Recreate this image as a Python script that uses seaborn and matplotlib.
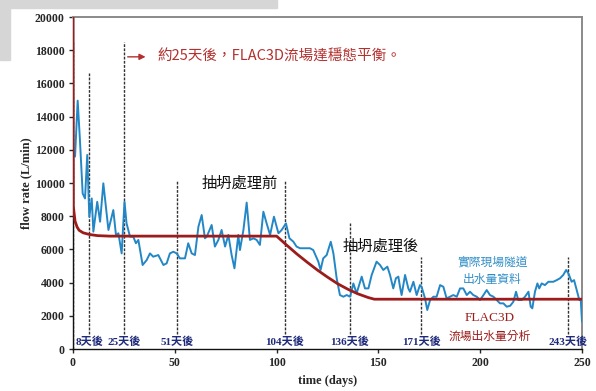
import matplotlib
matplotlib.use("Agg")
import matplotlib.pyplot as plt
import matplotlib.patches as mpatches
import numpy as np
import pandas as pd
import seaborn as sns

# Measured tunnel outflow (L/min) against time (days)
field_days = [1.0, 2.3, 3.4, 4.75, 5.9, 7.0, 8.0, 9.2, 10.0, 11.9, 13.3, 14.9, 16.5, 17.4,
              19.8, 21.1, 22.3, 23.9, 25.3, 26.3, 28.0, 29.6, 30.9, 32.1, 34.2, 36.2, 37.8,
              39.4, 41.9, 44.4, 46.0, 47.6, 49.3, 50.9, 52.5, 55.0, 56.6, 58.3, 59.9, 61.6,
              63.2, 64.8, 65.7, 68.1, 69.7, 71.4, 73.0, 74.7, 76.3, 77.9, 79.3, 81.2, 82.0,
              83.7, 85.3, 86.9, 88.6, 90.2, 91.8, 93.5, 95.1, 96.8, 98.7, 100.9, 102.5,
              104.6, 106.3, 108.2, 109.8, 111.5, 116.4, 118.0, 120.5, 121.6, 122.9, 124.6,
              126.6, 127.9, 129.5, 131.1, 132.8, 134.4, 136.1, 137.7, 139.3, 141.8, 143.4,
              145.1, 146.7, 149.1, 150.8, 152.4, 154.4, 155.7, 157.3, 158.6, 159.8, 160.6,
              161.4, 163.1, 164.7, 165.5, 167.2, 168.8, 170.4, 171.2, 172.9, 174.0, 175.4,
              177.0, 178.6, 180.3, 181.9, 183.5, 185.2, 186.8, 188.5, 190.1, 191.7, 193.4,
              195.0, 196.6, 198.3, 199.9, 201.6, 203.2, 204.8, 206.5, 208.1, 209.7, 211.4,
              213.0, 214.7, 216.3, 217.6, 218.7, 220.4, 222.0, 223.7, 224.8, 225.6, 226.9,
              228.1, 229.0, 230.2, 231.8, 233.5, 235.9, 237.6, 239.2, 240.8, 242.2, 243.3,
              244.9, 246.1, 247.4, 248.7, 249.4, 250.0]
field_flow = [11590, 14960, 12600, 9370, 9070, 11690, 7970, 9070, 7070, 8870, 7670, 9980,
              8170, 7170, 8370, 6870, 6970, 5760, 8870, 7570, 6770, 6770, 6370, 6570, 5060,
              5360, 5760, 5560, 5660, 5060, 5160, 5760, 5860, 5760, 5460, 5460, 6370, 5760,
              5660, 7370, 8070, 6670, 6770, 7470, 6170, 6570, 7170, 6170, 6870, 5670, 4860,
              6870, 5960, 7170, 8820, 6570, 6670, 6570, 6270, 8270, 7570, 6870, 7970, 6970,
              7170, 7570, 6670, 6470, 6170, 6070, 6070, 5960, 5260, 4760, 5460, 5660, 6460,
              5760, 4260, 3250, 3150, 3250, 3150, 3950, 3350, 4360, 3650, 3650, 4460, 5260,
              5060, 4760, 4960, 4460, 3650, 4260, 4360, 3750, 3250, 4460, 3650, 3450, 4050,
              3250, 3850, 3750, 3050, 2350, 2950, 3150, 3150, 3850, 3750, 3050, 3150, 3250,
              3150, 3650, 3650, 3250, 3450, 3250, 3150, 2950, 3250, 3550, 3250, 3150, 2950,
              2750, 2750, 2550, 2600, 2850, 3450, 2950, 2950, 3150, 3450, 2550, 2450, 3450,
              3950, 3650, 3950, 3850, 4050, 4050, 4150, 4260, 4460, 4760, 4560, 4050, 4150,
              3550, 2950, 2950, 1650]

# FLAC3D simulated outflow
model_days = [0, 0.15, 1, 2, 3, 5, 8, 12, 18, 100, 105, 110, 115, 120, 125, 130, 135,
              140, 145, 148, 250]
model_flow = [20000, 8600, 7700, 7350, 7150, 7000, 6900, 6830, 6800, 6800, 6250, 5720,
              5230, 4760, 4330, 3930, 3600, 3320, 3100, 3000, 3000]

# Marked stages: day, top of the marker line
stage_days = [8, 25, 51, 104, 136, 171, 243]
stage_tops = [16600, 18500, 10200, 10200, 7600, 5550, 5550]
stage_labels = ["8天後", "25天後", "51天後", "104天後", "136天後", "171天後", "243天後"]

x_ticks = [0, 50, 100, 150, 200, 250]
y_ticks = list(range(0, 20001, 2000))

sns.set_style("ticks")
plt.rcParams["font.family"] = ["Liberation Serif", "Noto Sans CJK TC"]
plt.rcParams["axes.unicode_minus"] = False

BLUE = "#2387c6"
RED = "#9c1c1c"
TXT_RED = "#b2302e"
NAVY = "#1f2b7a"
CJK = ["Noto Sans CJK TC", "DejaVu Sans"]

fig = plt.figure(figsize=(5.96, 3.91), dpi=100)

# window frame around the chart panel
fig.patches.append(mpatches.Rectangle((0, 1 - 8 / 391), 277 / 596, 8 / 391,
                                      transform=fig.transFigure, color="#d6d6d6", zorder=0))
fig.patches.append(mpatches.Rectangle((0, 1 - 60 / 391), 10 / 596, 60 / 391,
                                      transform=fig.transFigure, color="#d6d6d6", zorder=0))

ax = fig.add_axes([73 / 596, 42 / 391, 509 / 596, 332 / 391])

field = pd.DataFrame({"day": field_days, "flow": field_flow})
model = pd.DataFrame({"day": model_days, "flow": model_flow})

sns.lineplot(data=field, x="day", y="flow", ax=ax, color=BLUE, lw=1.4,
             estimator=None, sort=False, zorder=3)
sns.lineplot(data=model, x="day", y="flow", ax=ax, color=RED, lw=2.0,
             estimator=None, sort=False, zorder=4)

# stage markers
ax.vlines(0, 0, 18500, colors="#333333", linestyles=(0, (2, 1)), lw=1.0, zorder=2)
for d, top, lab in zip(stage_days, stage_tops, stage_labels):
    ax.vlines(d, 900, top, colors="#333333", linestyles=(0, (2, 1)), lw=1.0, zorder=2)
    ax.text(d, 440, lab, ha="center", va="center", fontsize=8, fontweight="bold",
            color=NAVY, family=["Liberation Serif", "Noto Sans CJK TC"], zorder=5)

# steady-state note
ax.annotate("", xy=(37, 17600), xytext=(25.5, 17600),
            arrowprops=dict(arrowstyle="-|>", color=TXT_RED, lw=1.0, mutation_scale=9))
ax.text(41.3, 17600, "約25天後，FLAC3D流場達穩態平衡。", ha="left", va="center",
        fontsize=10.5, color=TXT_RED, family=CJK)

ax.text(82, 10000, "抽坍處理前", ha="center", va="center", fontsize=11,
        color="#111111", family=CJK)
ax.text(151, 6200, "抽坍處理後", ha="center", va="center", fontsize=11,
        color="#111111", family=CJK)
ax.text(206, 5250, "實際現場隧道", ha="center", va="center", fontsize=8.5,
        color="#2f8dc6", family=CJK)
ax.text(206, 4200, "出水量資料", ha="center", va="center", fontsize=8.5,
        color="#2f8dc6", family=CJK)
ax.text(204.5, 1870, "FLAC3D", ha="center", va="center", fontsize=9.5,
        color=RED, family=["Liberation Serif"])
ax.text(204.5, 740, "流場出水量分析", ha="center", va="center", fontsize=8.5,
        color=RED, family=CJK)

ax.set_xlim(0, 250)
ax.set_ylim(0, 20000)
ax.set_xticks(x_ticks)
ax.set_yticks(y_ticks)
ax.tick_params(axis="both", direction="out", length=3, width=1, labelsize=8.5, pad=3)
for lab in ax.get_xticklabels() + ax.get_yticklabels():
    lab.set_fontweight("bold")
    lab.set_family("Liberation Serif")

ax.set_xlabel("time (days)", fontsize=9, fontweight="bold", family="Liberation Serif",
              labelpad=4)
ax.set_ylabel("flow rate (L/min)", fontsize=9, fontweight="bold", family="Liberation Serif",
              labelpad=2)

for side in ("left", "bottom"):
    ax.spines[side].set_color("#111111")
    ax.spines[side].set_linewidth(1.0)
for side in ("top", "right"):
    ax.spines[side].set_visible(True)
    ax.spines[side].set_color("#8a8a8a")
    ax.spines[side].set_linewidth(1.4)

fig.savefig("out.png", dpi=100)
